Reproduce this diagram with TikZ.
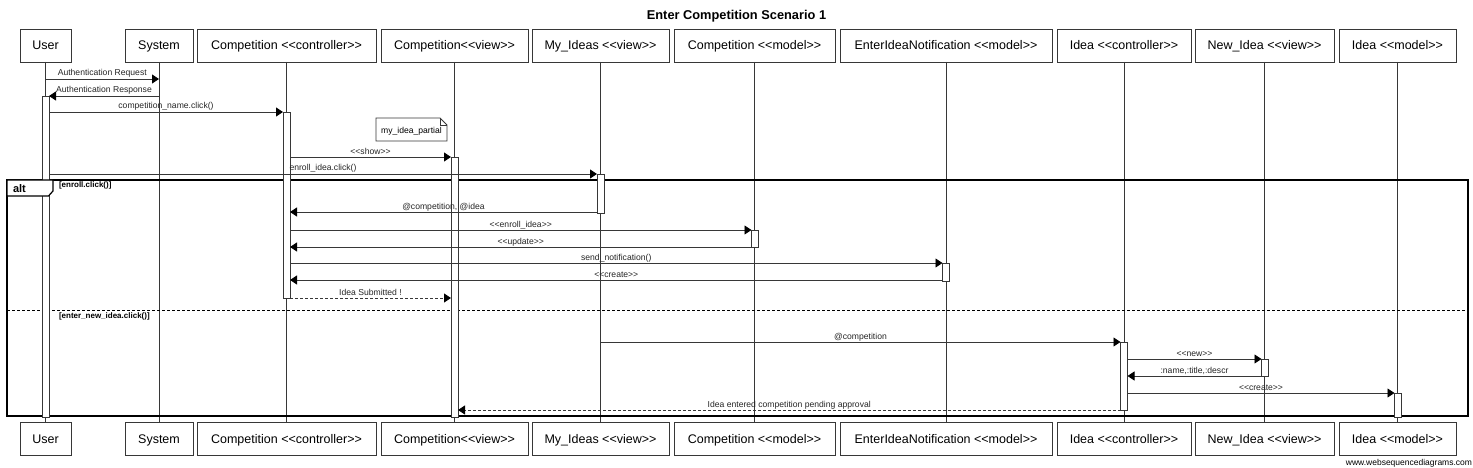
\documentclass[tikz,border=0pt]{standalone}
\usepackage{fontspec}
\setmainfont{Liberation Sans}
\usetikzlibrary{arrows.meta}
\definecolor{lc}{RGB}{55,55,55}
\newcommand\sopen{<\kern0pt<}
\newcommand\sclose{>\kern0pt>}
\newcommand\seqmsg[6][msg]{%
  \coordinate (#2a) at (#3,#5); \coordinate (#2b) at (#4,#5);
  \draw[#1] (#2a) -- (#2b) node[lbl, midway, yshift=3pt]{#6};}
\begin{document}
\begin{tikzpicture}[x=1pt,y=-1pt,
  every node/.style={inner sep=0pt, outer sep=0pt},
  actor/.style={draw=lc, line width=0.8pt, minimum height=33pt,
    text height=9pt, text depth=0pt, font=\fontsize{12.5}{14}\selectfont, text=black},
  life/.style={draw=lc, line width=0.8pt},
  actbox/.style={draw=lc, fill=white, line width=0.8pt, minimum width=7pt},
  msg/.style={draw=lc, line width=0.8pt, -{Triangle[length=7pt,width=9pt,color=black,fill=black]}},
  rmsg/.style={msg, dash pattern=on 3pt off 2pt},
  lbl/.style={font=\fontsize{8.6}{10}\selectfont, text=black!85, anchor=base},
  guard/.style={font=\bfseries\fontsize{8}{10}\selectfont, anchor=base west},
]
\useasboundingbox (0,0) rectangle (1473,468);
\fill[white] (0,0) rectangle (1473,468);

% title
\node[font=\bfseries\fontsize{12.8}{15}\selectfont, anchor=base] (title) at (736.5,20) {Enter Competition Scenario 1};

% header boxes
\node[actor, minimum width=51pt]  (hUser) at (45.5,45.5) {User};
\node[actor, minimum width=68pt]  (hSys)  at (159,45.5) {System};
\node[actor, minimum width=179pt] (hCC)   at (286.5,45.5) {Competition \sopen controller\sclose};
\node[actor, minimum width=147pt] (hCV)   at (454.5,45.5) {Competition\sopen view\sclose};
\node[actor, minimum width=137pt] (hMI)   at (600.5,45.5) {My\_Ideas \sopen view\sclose};
\node[actor, minimum width=161pt] (hCM)   at (754.5,45.5) {Competition \sopen model\sclose};
\node[actor, minimum width=212pt] (hEN)   at (946,45.5) {EnterIdeaNotification \sopen model\sclose};
\node[actor, minimum width=134pt] (hIC)   at (1124,45.5) {Idea \sopen controller\sclose};
\node[actor, minimum width=139pt] (hNI)   at (1264.5,45.5) {New\_Idea \sopen view\sclose};
\node[actor, minimum width=117pt] (hIM)   at (1397.5,45.5) {Idea \sopen model\sclose};

% footer boxes
\node[actor, minimum width=51pt]  (fUser) at (45.5,438.5) {User};
\node[actor, minimum width=68pt]  (fSys)  at (159,438.5) {System};
\node[actor, minimum width=179pt] (fCC)   at (286.5,438.5) {Competition \sopen controller\sclose};
\node[actor, minimum width=147pt] (fCV)   at (454.5,438.5) {Competition\sopen view\sclose};
\node[actor, minimum width=137pt] (fMI)   at (600.5,438.5) {My\_Ideas \sopen view\sclose};
\node[actor, minimum width=161pt] (fCM)   at (754.5,438.5) {Competition \sopen model\sclose};
\node[actor, minimum width=212pt] (fEN)   at (946,438.5) {EnterIdeaNotification \sopen model\sclose};
\node[actor, minimum width=134pt] (fIC)   at (1124,438.5) {Idea \sopen controller\sclose};
\node[actor, minimum width=139pt] (fNI)   at (1264.5,438.5) {New\_Idea \sopen view\sclose};
\node[actor, minimum width=117pt] (fIM)   at (1397.5,438.5) {Idea \sopen model\sclose};

% lifelines
\foreach \n in {User,Sys,CC,CV,MI,CM,EN,IC,NI,IM}
  \draw[life] (h\n.south) -- (f\n.north);

% alt frame
\draw[black, line width=1.5pt] (7,180) rectangle (1468,416);
\draw[black, line width=0.8pt, dash pattern=on 3pt off 2pt] (7,310) -- (1468,310);

% activations
\node[actbox, minimum height=321pt] (aUser) at (45.5,256.5) {};
\node[actbox, minimum height=186pt] (aCC)   at (286.5,205) {};
\node[actbox, minimum height=260pt] (aCV)   at (454.5,287) {};
\node[actbox, minimum height=39pt]  (aMI)   at (600.5,193.5) {};
\node[actbox, minimum height=17pt]  (aCM)   at (755,238.5) {};
\node[actbox, minimum height=18pt]  (aEN)   at (946,272) {};
\node[actbox, minimum height=68pt]  (aIC)   at (1124,376) {};
\node[actbox, minimum height=17pt]  (aNI)   at (1265,367.5) {};
\node[actbox, minimum height=24pt]  (aIM)   at (1398,405) {};

% note
\draw[lc, line width=0.8pt, fill=white] (376,118) -- (440,118) -- (447,125) -- (447,141) -- (376,141) -- cycle;
\draw[lc, line width=0.8pt] (440,118) -- (440,125) -- (447,125);
\node[lbl, anchor=center, text=black] (note) at (411.5,131) {my\_idea\_partial};

% messages
\seqmsg{m1}{45.5}{159}{79}{Authentication Request}
\seqmsg{m2}{159}{49}{96}{Authentication Response}
\seqmsg{m3}{49}{283}{112}{competition\_name.click()}
\seqmsg{m5}{290}{451}{157}{\sopen show\sclose}
\seqmsg{m6}{49}{597}{174}{enroll\_idea.click()}
\seqmsg{m8}{597}{290}{212}{@competition, @idea}
\seqmsg{m9}{290}{751.5}{230}{\sopen enroll\_idea\sclose}
\seqmsg{m10}{751.5}{290}{247}{\sopen update\sclose}
\seqmsg{m11}{290}{942.5}{263}{send\_notification()}
\seqmsg{m12}{942.5}{290}{280}{\sopen create\sclose}
\seqmsg[rmsg]{m13}{290}{451}{298}{Idea Submitted !}
\seqmsg{m14}{600.5}{1120.5}{342}{@competition}
\seqmsg{m15}{1127.5}{1261.5}{359}{\sopen new\sclose}
\seqmsg{m16}{1261.5}{1127.5}{376}{:name,:title,:descr}
\seqmsg{m17}{1127.5}{1394.5}{393}{\sopen create\sclose}
\seqmsg[rmsg]{m18}{1120.5}{458}{410}{Idea entered competition pending approval}

% alt tab and guards
\draw[black, line width=1.2pt, fill=white] (7,180) -- (53,180) -- (53,191) -- (48.5,196) -- (7,196) -- cycle;
\node[font=\bfseries\fontsize{11}{12}\selectfont, anchor=base west] (alt) at (13,193) {alt};
\node[guard] (g1) at (59,188) {[enroll.click()]};
\node[guard] (g2) at (59,318) {[enter\_new\_idea.click()]};

% footer
\node[font=\fontsize{8.5}{10}\selectfont, anchor=base east] (wsd) at (1472,465.5) {www.websequencediagrams.com};
\end{tikzpicture}
\end{document}
